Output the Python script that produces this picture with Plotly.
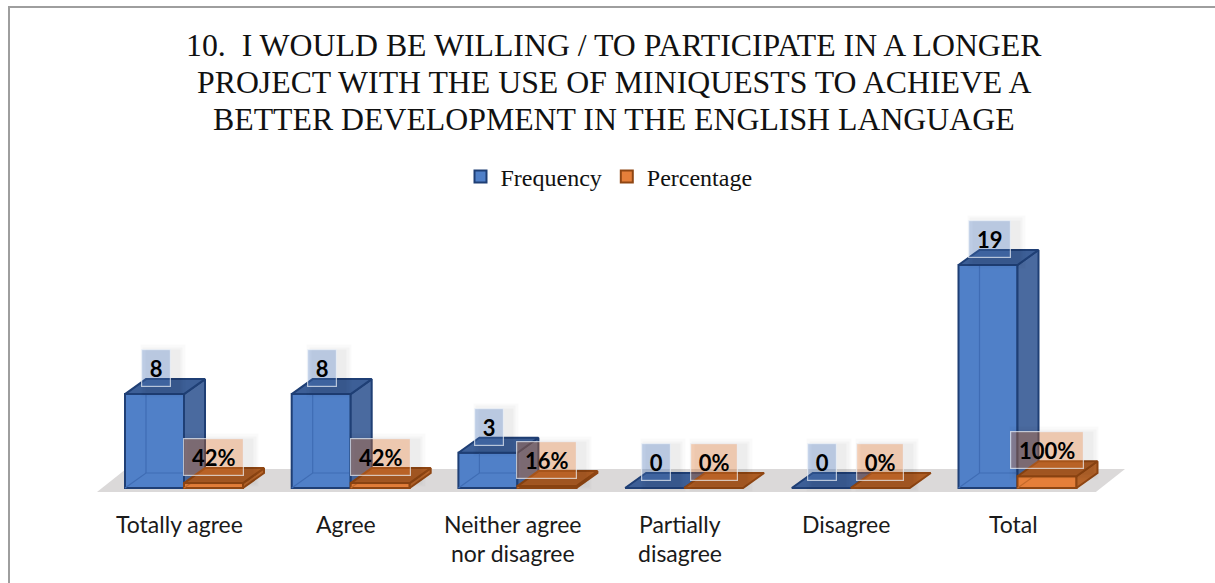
import plotly.graph_objects as go

categories = [["Totally agree"], ["Agree"], ["Neither agree", "nor disagree"],
              ["Partially", "disagree"], ["Disagree"], ["Total"]]
frequency = [8, 8, 3, 0, 0, 19]
percentage = [0.42, 0.42, 0.16, 0, 0, 1.00]
percent_labels = ["42%", "42%", "16%", "0%", "0%", "100%"]
frequency_labels = ["8", "8", "3", "0", "0", "19"]
title_lines = ["10.\u00a0 I WOULD BE WILLING / TO PARTICIPATE IN A LONGER",
               "PROJECT WITH THE USE OF MINIQUESTS TO ACHIEVE A",
               "BETTER DEVELOPMENT IN THE ENGLISH LANGUAGE"]

W, H = 1215, 583
STEP_PX = 166.7
UNIT_PX = 11.74
CENTER0_PX = 184.0
BASE_PX = 488.0
LEFT_PX, RIGHT_PX = 84.0, 1142.5
TOP_PX, BOTTOM_PX = 205.0, 510.0

x_range = [(LEFT_PX - CENTER0_PX) / STEP_PX, (RIGHT_PX - CENTER0_PX) / STEP_PX]
y_range = [(BASE_PX - BOTTOM_PX) / UNIT_PX, (BASE_PX - TOP_PX) / UNIT_PX]

BAR_W = 59 / STEP_PX      # width of a front face
DX = 21 / STEP_PX         # oblique depth, horizontal part
DY = 15 / UNIT_PX         # oblique depth, vertical part

BLUE = dict(front="#5080c8", side="#4a6a9f", top="#3d5f97", edge="#1f3f75",
            back="#3f6cb4", label="rgba(79,124,198,0.33)")
ORANGE = dict(front="#e57f3a", side="#b5642a", top="#ad5d24", edge="#8f4613",
              back="#c46a2b", label="rgba(237,125,49,0.33)")


def polygons(shapes):
    xs, ys = [], []
    for shape in shapes:
        xs += [p[0] for p in shape] + [shape[0][0], None]
        ys += [p[1] for p in shape] + [shape[0][1], None]
    return xs, ys


def face(shapes, color, edge, z):
    xs, ys = polygons(shapes)
    return go.Scatter(x=xs, y=ys, mode="lines", fill="toself", fillcolor=color,
                      line=dict(color=edge, width=2), showlegend=False,
                      hoverinfo="skip", zorder=z)


def add_series(fig, name, values, left_offset, pal, z):
    lefts = [i + left_offset for i in range(len(values))]
    # back edges seen through the translucent front face
    back_x, back_y = [], []
    for x0, h in zip(lefts, values):
        if h > 0:
            back_x += [x0 + DX, x0 + DX, None, x0, x0 + DX, x0 + BAR_W + DX, None]
            back_y += [h + DY, DY, None, 0, DY, DY, None]
    fig.add_bar(x=list(range(len(values))), y=values, name=name, width=BAR_W,
                offset=left_offset,
                marker=dict(color=pal["front"], line=dict(color=pal["edge"], width=2)),
                zorder=z, hoverinfo="skip")
    fig.add_trace(go.Scatter(x=back_x, y=back_y, mode="lines", showlegend=False,
                             line=dict(color=pal["back"], width=1.2),
                             hoverinfo="skip", zorder=z + 1))
    tops, sides = [], []
    for x0, h in zip(lefts, values):
        x1 = x0 + BAR_W
        tops.append([(x0, h), (x0 + DX, h + DY), (x1 + DX, h + DY), (x1, h)])
        if h > 0:
            sides.append([(x1, 0), (x1 + DX, DY), (x1 + DX, h + DY), (x1, h)])
    fig.add_trace(face(sides, pal["side"], pal["edge"], z + 1))
    fig.add_trace(face(tops, pal["top"], pal["edge"], z + 1))


def label_width(text):
    digits = sum(c.isdigit() for c in text)
    return 15 + 13 * digits + (18 if "%" in text else 0)


fig = go.Figure()
add_series(fig, "Frequency", frequency, -BAR_W, BLUE, 1)
add_series(fig, "Percentage", percentage, 0, ORANGE, 3)

annotations = []
for offset, values, labels, pal, shift in (
        (-BAR_W / 2, frequency, frequency_labels, BLUE, 1),
        (BAR_W / 2, percentage, percent_labels, ORANGE, 0)):
    for i, (v, t) in enumerate(zip(values, labels)):
        common = dict(x=i + offset, y=v, xref="x", yref="y", showarrow=False,
                      width=label_width(t), height=36)
        # soft drop shadow under each value box
        for grow, alpha in ((14, 0.018), (9, 0.022), (4, 0.028)):
            annotations.append(dict(common, text="&nbsp;", xshift=shift + 7, yshift=23,
                                    width=common["width"] + grow, height=36 + grow,
                                    bgcolor=f"rgba(0,0,0,{alpha})"))
        annotations.append(dict(common, text=t, xshift=shift, yshift=26,
                                font=dict(family="Lato", size=22, color="black", weight="bold"),
                                bgcolor=pal["label"], bordercolor="rgba(238,242,248,0.7)",
                                borderwidth=1.2, borderpad=0))

# category captions, one entry per line
for i, lines in enumerate(categories):
    for row, line in enumerate(lines):
        annotations.append(dict(x=i, xshift=-4.5, y=1 - (523.5 + 29 * row) / H, xref="x",
                                yref="paper", text=line, showarrow=False, yanchor="middle",
                                font=dict(family="Lato", size=23, color="#1a1a1a")))

# chart heading, one entry per line for its tight leading
for row, line in enumerate(title_lines):
    annotations.append(dict(x=613.5 / W, y=1 - (45 + 37 * row) / H, xref="paper", yref="paper",
                            text=line, showarrow=False, yanchor="middle", xanchor="center",
                            font=dict(family="Liberation Serif", size=31.8, color="#111111")))

frame = dict(type="line", xref="paper", yref="paper",
             line=dict(color="#9e9e9e", width=2), layer="below")

fig.update_layout(
    width=W, height=H,
    margin=dict(l=0, r=0, t=0, b=0, autoexpand=False),
    paper_bgcolor="white", plot_bgcolor="rgba(0,0,0,0)",
    barmode="overlay",
    xaxis=dict(domain=[LEFT_PX / W, RIGHT_PX / W], range=x_range, visible=False),
    yaxis=dict(domain=[1 - BOTTOM_PX / H, 1 - TOP_PX / H], range=y_range, visible=False),
    legend=dict(orientation="h", x=609 / W, xanchor="center", y=1 - 177 / H, yanchor="middle",
                font=dict(family="Liberation Serif", size=24, color="#111111"),
                bgcolor="rgba(0,0,0,0)", itemclick=False, itemdoubleclick=False),
    annotations=annotations,
    shapes=[
        dict(frame, x0=9 / W, x1=9 / W, y0=0, y1=1 - 6 / H),
        dict(frame, x0=8 / W, x1=1, y0=1 - 7 / H, y1=1 - 7 / H),
        dict(type="path", xref="x", yref="y", layer="below",
             path="M -0.522,-0.34 L -0.348,1.62 L 5.645,1.62 L 5.47,-0.34 Z",
             fillcolor="#dbd9d9", line=dict(width=0)),
    ],
    showlegend=True,
)

fig.write_html("out.html")
